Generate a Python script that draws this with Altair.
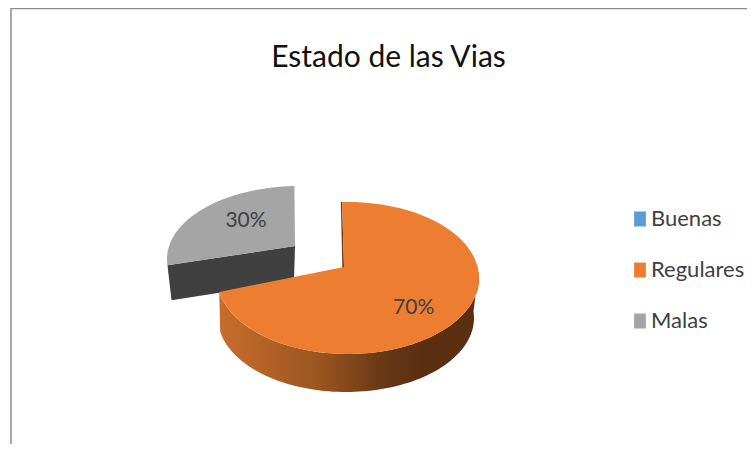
import math
import altair as alt

TITLE = "Estado de las Vias"
categories = ["Buenas", "Regulares", "Malas"]
values = [0, 70, 30]
colors = ["#5B9BD5", "#ED7D31", "#A5A5A5"]
FONT = "Lato"

OX, OY = 8, 8  # page margin
# tilted-pie geometry, in page pixels: top ellipse, wall ellipse, apex
reg = dict(cx=348, cy=278, rx=131, ry=76, ax=344, ay=267, bcx=346, bcy=318, brx=128, bry=74)
mal = dict(cx=299, cy=259, rx=132, ry=73, ax=295, ay=246)
REG_START = -2.6   # degrees clockwise from the top
REG_STRETCH = 262 / 252  # foreshortening of the near slice
MAL_STRETCH = 93 / 108   # foreshortening of the far slice


def pt(g, deg, bottom=False):
    a = math.radians(deg)
    if bottom:
        return [g["bcx"] + g["brx"] * math.sin(a), g["bcy"] - g["bry"] * math.cos(a)]
    return [g["cx"] + g["rx"] * math.sin(a), g["cy"] - g["ry"] * math.cos(a)]


def arc(g, a0, a1, bottom=False, n=90):
    return [pt(g, a0 + (a1 - a0) * i / n, bottom) for i in range(n + 1)]


def feature(ring, name):
    ring = ring + [ring[0]]
    return {"type": "Feature", "properties": {"slice": name},
            "geometry": {"type": "Polygon", "coordinates": [ring]}}


reg_end = REG_START + values[1] * 3.6 * REG_STRETCH
mal_end = 358
mal_start = mal_end - values[2] * 3.6 * MAL_STRETCH

reg_top = feature([[reg["ax"], reg["ay"]]] + arc(reg, REG_START, reg_end), categories[1])
reg_wall = feature(arc(reg, 85, reg_end) + arc(reg, reg_end, 85, bottom=True), "wall")
reg_inner = feature([[reg["ax"] - 1.6, reg["ay"] + 4], [reg["ax"], reg["ay"]],
                     pt(reg, REG_START), [pt(reg, REG_START)[0] - 1.2, pt(reg, REG_START)[1]]], "inner")
mal_top = feature([[mal["ax"], mal["ay"]]] + arc(mal, mal_start, mal_end), categories[2])
left = pt(mal, mal_start)
mal_wall = feature([[mal["ax"], mal["ay"]], left, [left[0] + 4, left[1] + 35],
                    [mal["ax"] - 1, mal["ay"] + 35]], "wall")

proj = dict(type="identity", scale=1, translate=[-OX, -OY])
scale = alt.Scale(domain=categories, range=colors)


def shape(feats, **kw):
    return alt.Chart(alt.Data(values=feats)).mark_geoshape(strokeWidth=0, **kw).project(**proj)


wall_grad = alt.Gradient(
    gradient="linear", x1=0, x2=1, y1=0, y2=0,
    stops=[alt.GradientStop(offset=0, color="#C86D2B"),
           alt.GradientStop(offset=0.38, color="#9B5621"),
           alt.GradientStop(offset=0.63, color="#693815"),
           alt.GradientStop(offset=0.78, color="#592F10"),
           alt.GradientStop(offset=1, color="#5B3011")],
)

color = alt.Color(
    "properties.slice:N", scale=scale,
    legend=alt.Legend(
        title=None, orient="none", legendX=621, legendY=200, padding=0,
        symbolType="M-0.98,-1.25H0.98V1.25H-0.98Z", symbolSize=144, symbolStrokeWidth=0,
        labelFont=FONT, labelFontSize=22, labelColor="#404040", labelLimit=200,
        labelOffset=0, rowPadding=29,
    ),
)

layers = [
    shape([mal_wall], fill="#404040"),
    shape([reg_wall], fill=wall_grad),
    shape([reg_inner], fill="#6B3A14"),
    alt.Chart(alt.Data(values=[mal_top, reg_top])).mark_geoshape(strokeWidth=0).encode(color=color).project(**proj),
]

# value labels
label_rows = []
for name, v, g, deg, f in [(categories[1], values[1], reg, 128.4, 0.64),
                           (categories[2], values[2], mal, 322.4, 0.658)]:
    a = math.radians(deg)
    label_rows.append({"lon": g["cx"] + g["rx"] * f * math.sin(a),
                       "lat": g["cy"] - g["ry"] * f * math.cos(a),
                       "label": f"{v}%"})
labels = alt.Chart(alt.Data(values=label_rows)).mark_text(
    font=FONT, fontSize=21, color="#404040", align="center", baseline="middle"
).encode(longitude="lon:Q", latitude="lat:Q", text="label:N").project(**proj)

W, H = 739, 436
border_top = alt.Chart(alt.Data(values=[{"a": 0}])).mark_rule(color="#8C8C8C", strokeWidth=1.5).encode(
    x=alt.value(3), x2=alt.value(W), y=alt.value(0.5))
border_left = alt.Chart(alt.Data(values=[{"a": 0}])).mark_rule(color="#8C8C8C", strokeWidth=1.5).encode(
    x=alt.value(3), y=alt.value(0), y2=alt.value(H))

chart = alt.layer(border_top, border_left, *layers, labels).properties(
    width=W, height=H, padding=0,
    autosize=alt.AutoSizeParams(type="none"),
    title=alt.TitleParams(TITLE, font=FONT, fontSize=30, fontWeight="normal", color="#111111",
                          anchor="middle", offset=-66, dx=11, orient="top"),
).configure_view(stroke=None)

chart.save("out.html", embed_options={"renderer": "svg", "actions": False})
